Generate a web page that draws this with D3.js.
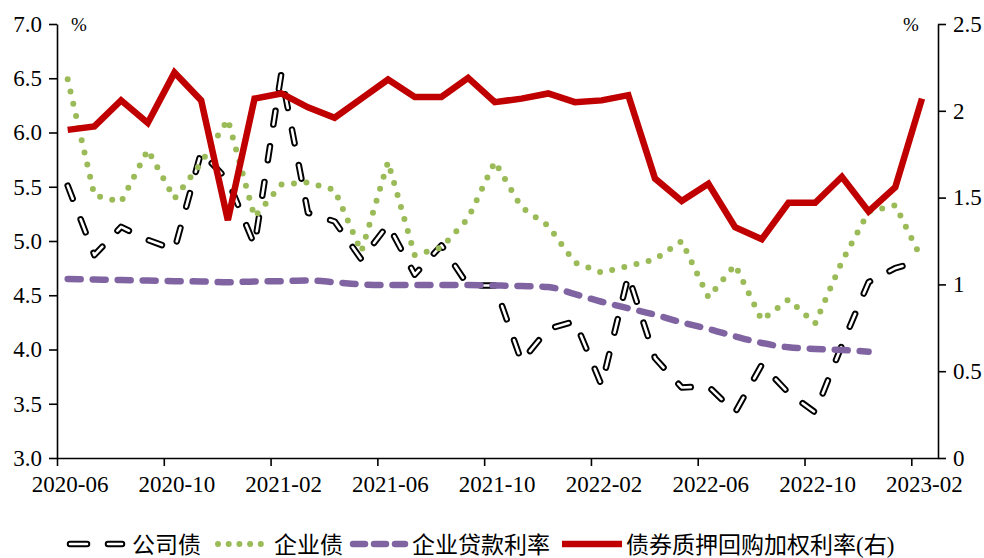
<!DOCTYPE html>
<html lang="zh">
<head>
<meta charset="utf-8">
<script src="https://d3js.org/d3.v7.min.js"></script>
<style>
  body { margin: 0; background: #fff; }
</style>
</head>
<body>
<div id="chart"></div>
<script>
// monthly categories, 2020-06 .. 2023-02
var months = ["2020-06","2020-07","2020-08","2020-09","2020-10","2020-11","2020-12",
  "2021-01","2021-02","2021-03","2021-04","2021-05","2021-06","2021-07","2021-08",
  "2021-09","2021-10","2021-11","2021-12","2022-01","2022-02","2022-03","2022-04",
  "2022-05","2022-06","2022-07","2022-08","2022-09","2022-10","2022-11","2022-12",
  "2023-01","2023-02"];
var tickLabels = ["2020-06","2020-10","2021-02","2021-06","2021-10","2022-02","2022-06","2022-10","2023-02"];

// 公司债 (left axis, %)
var corpBond = [5.51,4.87,5.13,5.01,4.92,5.82,5.56,4.96,6.54,5.26,5.18,4.83,5.15,4.69,4.96,4.59,4.59,
  3.89,4.19,4.26,3.67,4.68,3.92,3.65,3.66,3.42,3.86,3.60,3.42,4.04,4.62,4.75,4.82];
// 企业债 (left axis, %)
var entBond = [6.49,5.42,5.36,5.84,5.39,5.72,6.12,5.22,5.52,5.54,5.47,4.90,5.73,4.87,4.94,5.21,5.73,
  5.31,5.14,4.80,4.71,4.77,4.83,5.00,4.48,4.78,4.27,4.46,4.24,4.81,5.27,5.33,4.83];
// 企业贷款利率 (left axis, %), ends 2022-12
var loanRate = [4.65,4.645,4.64,4.636,4.63,4.627,4.62,4.627,4.63,4.636,4.62,4.60,4.594,4.594,4.594,
  4.594,4.59,4.585,4.576,4.51,4.44,4.38,4.32,4.25,4.19,4.12,4.06,4.02,4.005,3.995,3.98];
// 债券质押回购加权利率 (right axis, %)
var repoRate = [1.89,1.91,2.06,1.93,2.22,2.06,1.37,2.07,2.10,2.02,1.96,2.07,2.18,2.08,2.08,2.19,2.05,
  2.07,2.10,2.05,2.06,2.09,1.61,1.48,1.58,1.33,1.26,1.47,1.47,1.62,1.42,1.56,2.07];

var leftTicks = [3.0,3.5,4.0,4.5,5.0,5.5,6.0,6.5,7.0];
var rightTicks = [0,0.5,1,1.5,2,2.5];

var serif = "'Liberation Serif', 'Times New Roman', 'Noto Sans CJK SC', serif";
var width = 984, height = 558;
var x0 = 57, x1 = 938, yTop = 24, yBot = 458;

var svg = d3.select("#chart").append("svg")
  .attr("width", width)
  .attr("height", height);

var x = d3.scaleLinear().domain([0, 33]).range([x0, x1]);
var yL = d3.scaleLinear().domain([3, 7]).range([yBot, yTop]);
var yR = d3.scaleLinear().domain([0, 2.5]).range([yBot, yTop]);
var off = 0.4; // data points sit a little right of the month tick

// axes
var xAxis = d3.axisBottom(x)
  .tickValues([0,4,8,12,16,20,24,28,32])
  .tickFormat(function(d, i) { return tickLabels[i]; })
  .tickSize(8).tickPadding(10).tickSizeOuter(0);
var gx = svg.append("g").attr("transform", "translate(0," + yBot + ")").call(xAxis);

var leftAxis = d3.axisLeft(yL)
  .tickValues(leftTicks).tickFormat(d3.format(".1f"))
  .tickSize(8).tickPadding(7).tickSizeOuter(0);
var gl = svg.append("g").attr("transform", "translate(" + x0 + ",0)").call(leftAxis);

var rightAxis = d3.axisRight(yR)
  .tickValues(rightTicks).tickFormat(function(d) { return String(d); })
  .tickSize(8).tickPadding(7).tickSizeOuter(0);
var gr = svg.append("g").attr("transform", "translate(" + x1 + ",0)").call(rightAxis);

[gx, gl, gr].forEach(function(g) {
  g.attr("font-family", null);
  g.selectAll("path, line").attr("stroke", "#000").attr("stroke-width", 1.6);
  g.selectAll("text").style("font-family", serif).style("font-size", "23px").attr("fill", "#000");
});
// month labels sit centred on the month's data point, not on the tick
gx.selectAll("text").attr("dy", "0.71em").attr("x", x(0.47) - x(0));

svg.append("text").attr("x", 71).attr("y", 31)
  .style("font-family", serif).style("font-size", "19px").text("%");
svg.append("text").attr("x", 903).attr("y", 31)
  .style("font-family", serif).style("font-size", "19px").text("%");

function lineFor(yScale) {
  return d3.line()
    .x(function(d, i) { return x(i + off); })
    .y(function(d) { return yScale(d); });
}

// 公司债: hollow dashes (black outer + white inner)
svg.append("path").datum(corpBond)
  .attr("d", lineFor(yL))
  .attr("fill", "none").attr("stroke", "#000").attr("stroke-width", 6.5)
  .attr("stroke-dasharray", "14 22").attr("stroke-linecap", "round").attr("stroke-linejoin", "round");
svg.append("path").datum(corpBond)
  .attr("d", lineFor(yL))
  .attr("fill", "none").attr("stroke", "#fff").attr("stroke-width", 2.6)
  .attr("stroke-dasharray", "14 22").attr("stroke-linecap", "round").attr("stroke-linejoin", "round");

// 企业债: dotted green
svg.append("path").datum(entBond)
  .attr("d", lineFor(yL))
  .attr("fill", "none").attr("stroke", "#9BBB59").attr("stroke-width", 6)
  .attr("stroke-dasharray", "0 12.5").attr("stroke-linecap", "round");

// 企业贷款利率: purple dash
svg.append("path").datum(loanRate)
  .attr("d", d3.line().curve(d3.curveMonotoneX)
    .x(function(d, i) { return x(i + off); })
    .y(function(d) { return yL(d); }))
  .attr("fill", "none").attr("stroke", "#8064A2").attr("stroke-width", 6.5)
  .attr("stroke-dasharray", "13 12").attr("stroke-linecap", "round");

// 债券质押回购加权利率 (right axis)
svg.append("path").datum(repoRate)
  .attr("d", lineFor(yR))
  .attr("fill", "none").attr("stroke", "#C00000").attr("stroke-width", 6.5)
  .attr("stroke-linejoin", "miter");

// legend
var ly = 544, ty = 553;
var legend = svg.append("g").style("font-family", serif).style("font-size", "23px");
legend.append("line").attr("x1", 70).attr("x2", 122).attr("y1", ly).attr("y2", ly)
  .attr("stroke", "#000").attr("stroke-width", 6.5).attr("stroke-linecap", "round").attr("stroke-dasharray", "17 21");
legend.append("line").attr("x1", 70).attr("x2", 122).attr("y1", ly).attr("y2", ly)
  .attr("stroke", "#fff").attr("stroke-width", 2.6).attr("stroke-linecap", "round").attr("stroke-dasharray", "17 21");
legend.append("text").attr("x", 132).attr("y", ty).text("公司债");

legend.append("line").attr("x1", 218).attr("x2", 262).attr("y1", ly).attr("y2", ly)
  .attr("stroke", "#9BBB59").attr("stroke-width", 6).attr("stroke-linecap", "round").attr("stroke-dasharray", "0 10.7");
legend.append("text").attr("x", 274).attr("y", ty).text("企业债");

legend.append("line").attr("x1", 353).attr("x2", 405).attr("y1", ly).attr("y2", ly)
  .attr("stroke", "#8064A2").attr("stroke-width", 6.5).attr("stroke-linecap", "round").attr("stroke-dasharray", "12 9");
legend.append("text").attr("x", 412).attr("y", ty).text("企业贷款利率");

legend.append("line").attr("x1", 562).attr("x2", 622).attr("y1", ly).attr("y2", ly)
  .attr("stroke", "#C00000").attr("stroke-width", 6.5);
legend.append("text").attr("x", 626).attr("y", ty).text("债券质押回购加权利率(右)");
</script>
</body>
</html>
